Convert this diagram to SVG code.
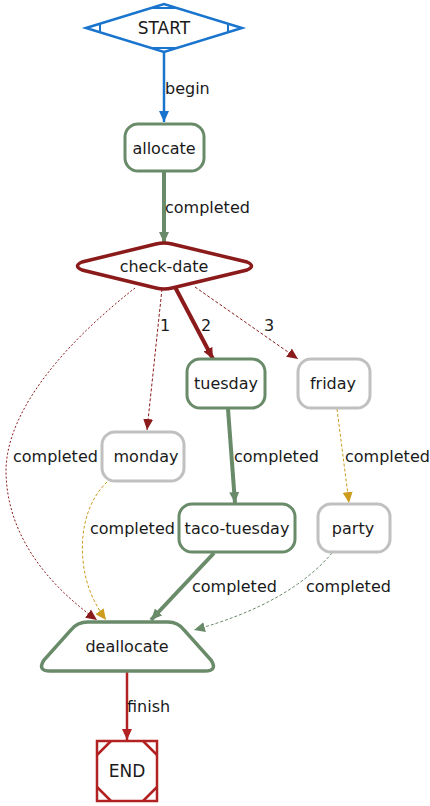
<svg xmlns="http://www.w3.org/2000/svg" width="430" height="806" viewBox="0 0 430 806">
<style>
text{font-family:"DejaVu Sans",sans-serif;font-size:16px;fill:#1a1a1a}
.c{text-anchor:middle}
.node{fill:#fff;stroke-width:3}
.green{stroke:#698B69}
.gray{stroke:#C0C0C0}
.e{fill:none}
</style>
<defs>
<marker id="mb" markerWidth="12" markerHeight="10" refX="11" refY="5" orient="auto" markerUnits="userSpaceOnUse"><path d="M0,0 L11,5 L0,10 Z" fill="#1874CD"/></marker>
<marker id="mg" markerWidth="12" markerHeight="10" refX="11" refY="5" orient="auto" markerUnits="userSpaceOnUse"><path d="M0,0 L11,5 L0,10 Z" fill="#698B69"/></marker>
<marker id="mr" markerWidth="12" markerHeight="10" refX="11" refY="5" orient="auto" markerUnits="userSpaceOnUse"><path d="M0,0 L11,5 L0,10 Z" fill="#8B1A1A"/></marker>
<marker id="my" markerWidth="12" markerHeight="10" refX="11" refY="5" orient="auto" markerUnits="userSpaceOnUse"><path d="M0,0 L11,5 L0,10 Z" fill="#CD9B1D"/></marker>
<marker id="mf" markerWidth="12" markerHeight="10" refX="11" refY="5" orient="auto" markerUnits="userSpaceOnUse"><path d="M0,0 L11,5 L0,10 Z" fill="#B22222"/></marker>
</defs>

<g id="connectors">
<g id="e-start-allocate"><path class="e" d="M164,52 L164,122" stroke="#1874CD" stroke-width="2.5" marker-end="url(#mb)"/><text x="165" y="94">begin</text></g>
<g id="e-allocate-check"><path class="e" d="M164,172 L164,243" stroke="#698B69" stroke-width="4" marker-end="url(#mg)"/><text x="165" y="213">completed</text></g>
<g id="e-check-monday"><path class="e" d="M162,289 L147,430" stroke="#8B1A1A" stroke-width="1" stroke-dasharray="3,2" marker-end="url(#mr)"/><text x="160" y="331">1</text></g>
<g id="e-check-tuesday"><path class="e" d="M175,287 L213,359" stroke="#8B1A1A" stroke-width="4" marker-end="url(#mr)"/><text x="201" y="331">2</text></g>
<g id="e-check-friday"><path class="e" d="M195,287 L298,359" stroke="#8B1A1A" stroke-width="1" stroke-dasharray="3,2" marker-end="url(#mr)"/><text x="264" y="331">3</text></g>
<g id="e-check-deallocate"><path class="e" d="M135,288 C75,335 7,405 6,470 C6,540 55,590 97,620" stroke="#8B1A1A" stroke-width="1" stroke-dasharray="2,2" marker-end="url(#mr)"/><text x="13" y="462">completed</text></g>
<g id="e-tuesday-taco"><path class="e" d="M228,409 L235,503" stroke="#698B69" stroke-width="4" marker-end="url(#mg)"/><text x="234" y="462">completed</text></g>
<g id="e-friday-party"><path class="e" d="M337,409 L349,503" stroke="#CD9B1D" stroke-width="1" stroke-dasharray="3,2" marker-end="url(#my)"/><text x="345" y="462">completed</text></g>
<g id="e-monday-deallocate"><path class="e" d="M107,482 C88,500 80,530 83,560 C85,585 95,605 106,620" stroke="#CD9B1D" stroke-width="1" stroke-dasharray="3,2" marker-end="url(#my)"/><text x="90" y="534">completed</text></g>
<g id="e-taco-deallocate"><path class="e" d="M214,553 L151,620" stroke="#698B69" stroke-width="4" marker-end="url(#mg)"/><text x="192" y="592">completed</text></g>
<g id="e-party-deallocate"><path class="e" d="M332,553 C305,585 260,612 194,630" stroke="#698B69" stroke-width="1" stroke-dasharray="3,2" marker-end="url(#mg)"/><text x="306" y="592">completed</text></g>
<g id="e-deallocate-end"><path class="e" d="M127,671 L127,740" stroke="#B22222" stroke-width="2.5" marker-end="url(#mf)"/><text x="127" y="712">finish</text></g>
</g>

<g id="START">
<polygon points="86,28 164,4 242,28 164,52" fill="#fff" stroke="#1874CD" stroke-width="2.5"/>
<path d="M100,24 L100,32 M228,24 L228,32 M151,8 L177,8 M151,48 L177,48" stroke="#1874CD" stroke-width="2"/>
<text class="c" x="164" y="34" style="font-size:17px">START</text>
</g>

<g id="allocate">
<rect class="node green" x="125" y="124" width="79" height="47" rx="13"/>
<text class="c" x="164" y="154">allocate</text>
</g>

<g id="check-date">
<path d="M82,262 L156,244 Q164,242 172,244 L247,262 Q256,266 247,270 L172,288 Q164,290 156,288 L82,270 Q73,266 82,262 Z" fill="#fff" stroke="#8B1A1A" stroke-width="3.5"/>
<text class="c" x="164" y="272">check-date</text>
</g>

<g id="tuesday">
<rect class="node green" x="187" y="359" width="78" height="49" rx="13"/>
<text class="c" x="226" y="389">tuesday</text>
</g>

<g id="friday">
<rect class="node gray" x="298" y="359" width="72" height="49" rx="13"/>
<text class="c" x="333" y="389">friday</text>
</g>

<g id="monday">
<rect class="node gray" x="102" y="432" width="82" height="49" rx="13"/>
<text class="c" x="146" y="462">monday</text>
</g>

<g id="taco-tuesday">
<rect class="node green" x="179" y="504" width="116" height="48" rx="13"/>
<text class="c" x="237" y="534">taco-tuesday</text>
</g>

<g id="party">
<rect class="node gray" x="318" y="504" width="72" height="48" rx="13"/>
<text class="c" x="353" y="534">party</text>
</g>

<g id="deallocate">
<path d="M88,622 L168,622 Q178,622 184,630 L211,660 Q218,671 205,671 L50,671 Q37,671 44,660 L71,630 Q77,622 88,622 Z" fill="#fff" stroke="#698B69" stroke-width="3.5"/>
<text class="c" x="127" y="652">deallocate</text>
</g>

<g id="END">
<rect x="97" y="741" width="60" height="60" fill="#fff" stroke="#B22222" stroke-width="2.5"/>
<path d="M97,755 L111,741 M143,741 L157,755 M157,787 L143,801 M111,801 L97,787" stroke="#B22222" stroke-width="2.5"/>
<text class="c" x="127" y="777" style="font-size:17px">END</text>
</g>
</svg>
